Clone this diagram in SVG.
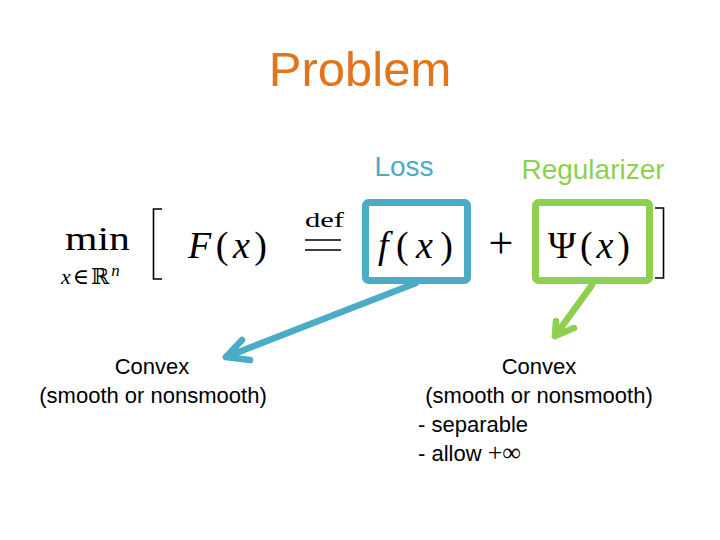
<svg xmlns="http://www.w3.org/2000/svg" width="720" height="540" viewBox="0 0 720 540">
<style>
.sans{font-family:"Liberation Sans","Open Sans",sans-serif;}
.math{font-family:"Liberation Serif","DejaVu Serif",serif;fill:#000;}
.it{font-style:italic;}
.body{font-size:22px;fill:#000;}
.bracket{fill:none;stroke:#000;stroke-width:1.6;}
.blue{stroke:#4BACC6;}
.green{stroke:#8FCF4F;}
.box{fill:none;stroke-width:7;stroke-linejoin:round;}
.arr{fill:none;stroke-width:6.5;stroke-linecap:round;stroke-linejoin:round;}
</style>
<rect width="720" height="540" fill="#fff"/>
<g id="title"><text class="sans" x="360" y="86" font-size="49" fill="#E0761C" text-anchor="middle">Problem</text></g>
<g id="loss-label"><text class="sans" x="404" y="176" font-size="28" fill="#4BACC6" text-anchor="middle">Loss</text></g>
<g id="reg-label"><text class="sans" x="593" y="179" font-size="28" fill="#8FCF4F" text-anchor="middle">Regularizer</text></g>
<g id="formula">
<text class="math" x="65" y="250" font-size="34" textLength="65" lengthAdjust="spacingAndGlyphs">min</text>
<text class="math" x="61" y="284" font-size="22" letter-spacing="2"><tspan class="it">x</tspan>∈ℝ<tspan class="it" font-size="17" dy="-8">n</tspan></text>
<path class="bracket" d="M162 209 H153.5 V279 H162"/>
<text class="math" x="188" y="258" font-size="38" textLength="79" lengthAdjust="spacing"><tspan class="it">F</tspan>(<tspan class="it">x</tspan>)</text>
<text class="math" x="305" y="227" font-size="22" textLength="39" lengthAdjust="spacingAndGlyphs">def</text>
<path d="M305 240 H341 M305 250 H341" stroke="#000" stroke-width="1.6"/>
<text class="math" x="501" y="258" font-size="44" text-anchor="middle">+</text>
<path class="bracket" d="M655 208 H663.5 V278 H655"/>
</g>
<g id="loss-box">
<rect class="box blue" x="365.5" y="202.5" width="102" height="78" rx="3"/>
<text class="math" x="378" y="258" font-size="38" textLength="75" lengthAdjust="spacing"><tspan class="it">f</tspan>(<tspan class="it">x</tspan>)</text>
</g>
<g id="reg-box">
<rect class="box green" x="535.5" y="202.5" width="114" height="78" rx="3"/>
<text class="math" x="548" y="258" font-size="38" textLength="82" lengthAdjust="spacing">Ψ(<tspan class="it">x</tspan>)</text>
</g>
<g id="left-text" class="sans body" text-anchor="middle">
<text x="152" y="374">Convex</text>
<text x="153" y="403">(smooth or nonsmooth)</text>
</g>
<g id="right-text" class="sans body">
<text x="539" y="374" text-anchor="middle">Convex</text>
<text x="539" y="403" text-anchor="middle">(smooth or nonsmooth)</text>
<text x="418" y="432">- separable</text>
<text x="418" y="461">- allow <tspan class="math" font-size="26" fill="#444">+∞</tspan></text>
</g>
<g id="connectors">
<g class="arr blue">
<path d="M416 283 L226 357"/>
<path d="M242 340 L226 357 L250 360"/>
</g>
<g class="arr green">
<path d="M592 285 L555 336"/>
<path d="M556 321 L555 336 L574 328"/>
</g>
</g>
</svg>
